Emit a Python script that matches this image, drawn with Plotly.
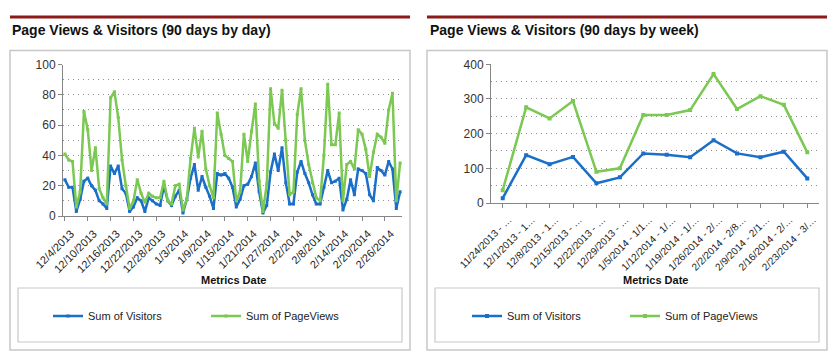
import plotly.graph_objects as go
import pandas as pd

# ---------------- data ----------------
daily_dates = [f"{d.month}/{d.day}/{d.year}" for d in pd.date_range("2013-12-04", periods=89)]

visitors_daily = [24, 19, 19, 3, 11, 23, 25, 20, 17, 10, 8, 5, 33, 28, 33, 18, 15, 3, 6, 12, 10, 3,
                  12, 10, 8, 7, 20, 10, 7, 13, 17, 2, 11, 25, 34, 17, 26, 19, 13, 5, 28, 27, 28, 25, 19,
                  6, 11, 20, 21, 26, 35, 16, 2, 7, 29, 41, 30, 45, 22, 8, 8, 29, 36, 28, 22, 14, 8, 8,
                  19, 30, 22, 23, 25, 4, 11, 24, 14, 31, 30, 28, 14, 10, 32, 30, 27, 36, 31, 5, 16]

pageviews_daily = [41, 37, 36, 6, 16, 69, 57, 30, 45, 18, 12, 8, 78, 82, 65, 37, 20, 5, 10, 24, 15, 9,
                   15, 13, 12, 12, 23, 10, 8, 20, 21, 4, 11, 38, 58, 39, 56, 31, 20, 12, 68, 54, 40, 38, 36,
                   10, 16, 54, 36, 56, 74, 23, 3, 21, 84, 61, 58, 83, 50, 14, 16, 67, 84, 50, 34, 22, 12, 10,
                   40, 87, 47, 47, 68, 10, 34, 36, 31, 57, 54, 44, 26, 42, 54, 52, 48, 70, 81, 10, 35]

week_labels = ["11/24/2013 - \u2026", "12/1/2013 - 1\u2026", "12/8/2013 - 1\u2026", "12/15/2013 - \u2026",
               "12/22/2013 - \u2026", "12/29/2013 - \u2026", "1/5/2014 - 1/1\u2026", "1/12/2014 - 1/\u2026",
               "1/19/2014 - 1/\u2026", "1/26/2014 - 2/\u2026", "2/2/2014 - 2/8\u2026", "2/9/2014 - 2/1\u2026",
               "2/16/2014 - 2/\u2026", "2/23/2014 - 3/\u2026"]
visitors_weekly = [14, 138, 112, 133, 57, 74, 143, 139, 132, 181, 143, 132, 148, 71]
pageviews_weekly = [37, 276, 244, 294, 90, 100, 254, 254, 268, 372, 271, 308, 283, 146]

daily_tick_labels = daily_dates[::6]

# ---------------- style ----------------
W, H = 838, 362
BLUE = "#1A6FC9"
GREEN = "#7BC852"
AXIS = "#868686"
GRID = "#8f8f8f"
DARKRED = "#8B1A1A"
FONT = "Liberation Sans, Arial, sans-serif"


def px(x):
    return x / W


def py(y):
    return 1 - y / H


fig = go.Figure()

fig.add_trace(go.Scatter(x=daily_dates, y=visitors_daily, name="Sum of Visitors", mode="lines+markers",
                         line=dict(color=BLUE, width=2.5), marker=dict(symbol="square", size=3, color=BLUE),
                         xaxis="x", yaxis="y", legend="legend"))
fig.add_trace(go.Scatter(x=daily_dates, y=pageviews_daily, name="Sum of PageViews", mode="lines+markers",
                         line=dict(color=GREEN, width=2.5), marker=dict(symbol="square", size=3, color=GREEN),
                         xaxis="x", yaxis="y", legend="legend"))
fig.add_trace(go.Scatter(x=week_labels, y=visitors_weekly, name="Sum of Visitors", mode="lines+markers",
                         line=dict(color=BLUE, width=2.5), marker=dict(symbol="square", size=4, color=BLUE),
                         xaxis="x2", yaxis="y2", legend="legend2"))
fig.add_trace(go.Scatter(x=week_labels, y=pageviews_weekly, name="Sum of PageViews", mode="lines+markers",
                         line=dict(color=GREEN, width=2.5), marker=dict(symbol="square", size=4, color=GREEN),
                         xaxis="x2", yaxis="y2", legend="legend2"))

ytickfont = dict(family=FONT, size=12, color="#333333")

common_x = dict(type="category", tickangle=-45, ticks="outside", ticklen=4, tickcolor=AXIS,
                showline=True, linecolor=AXIS, linewidth=1, showgrid=False,
                fixedrange=True, automargin=False, ticklabelshift=6, ticklabelstandoff=2)
common_y = dict(ticks="outside", ticklen=4, tickcolor=AXIS, showline=True, linecolor=AXIS, linewidth=1,
                showgrid=True, gridcolor=GRID, griddash="1px,4px", gridwidth=1, zeroline=False,
                tickfont=ytickfont, tickmode="linear", fixedrange=True, automargin=False)

legend_font = dict(family=FONT, size=11, color="#222222")

fig.update_layout(
    width=W, height=H, autosize=False,
    margin=dict(l=0, r=0, t=0, b=0, pad=0, autoexpand=False),
    paper_bgcolor="white", plot_bgcolor="white",
    font=dict(family=FONT, color="#222222"),
    xaxis=dict(common_x, domain=[px(63), px(402)], range=[-0.5, len(daily_dates) - 0.5],
               tickmode="array", tickvals=daily_tick_labels, ticktext=daily_tick_labels, anchor="y",
               tickfont=dict(family=FONT, size=11, color="#222222")),
    yaxis=dict(common_y, domain=[py(216), py(64.5)], range=[0, 100], dtick=20, tick0=0,
               minor=dict(dtick=10, tick0=0, showgrid=True, gridcolor=GRID, griddash="1px,4px", ticks=""),
               anchor="x"),
    xaxis2=dict(common_x, domain=[px(491), px(819)], range=[-0.5, len(week_labels) - 0.5], anchor="y2",
                tickfont=dict(family=FONT, size=10, color="#222222")),
    yaxis2=dict(common_y, domain=[py(203), py(64.3)], range=[0, 400], dtick=100, tick0=0,
                minor=dict(dtick=50, tick0=0, showgrid=True, gridcolor=GRID, griddash="1px,4px", ticks=""),
                anchor="x2"),
    legend=dict(orientation="h", x=px(48), y=py(316), xanchor="left", yanchor="middle",
                entrywidth=113, entrywidthmode="pixels", font=legend_font,
                bgcolor="rgba(0,0,0,0)", itemclick=False, itemdoubleclick=False),
    legend2=dict(orientation="h", x=px(467), y=py(316), xanchor="left", yanchor="middle",
                 entrywidth=113, entrywidthmode="pixels", font=legend_font,
                 bgcolor="rgba(0,0,0,0)", itemclick=False, itemdoubleclick=False),
    showlegend=True,
)

shapes = []
for x0, x1 in [(10, 410), (427, 827)]:
    # dark red header rule
    shapes.append(dict(type="line", xref="paper", yref="paper", x0=px(x0), x1=px(x1), y0=py(17), y1=py(17),
                       line=dict(color=DARKRED, width=3)))
    # outer chart frame
    shapes.append(dict(type="rect", xref="paper", yref="paper", x0=px(x0), x1=px(x1), y0=py(350), y1=py(50.5),
                       line=dict(color="#c8c8c8", width=1.5), layer="below"))
    # legend frame
    shapes.append(dict(type="rect", xref="paper", yref="paper", x0=px(x0 + 8), x1=px(x1 - 8), y0=py(342),
                       y1=py(288), line=dict(color="#c8c8c8", width=1.2), layer="below"))
fig.update_layout(shapes=shapes)

annotations = [
    dict(text="<b>Page Views & Visitors (90 days by day)</b>", x=px(10), y=py(30), xref="paper", yref="paper",
         xanchor="left", yanchor="middle", showarrow=False, font=dict(family=FONT, size=14, color="#111111")),
    dict(text="<b>Page Views & Visitors (90 days by week)</b>", x=px(428), y=py(30), xref="paper", yref="paper",
         xanchor="left", yanchor="middle", showarrow=False, font=dict(family=FONT, size=14, color="#111111")),
    dict(text="<b>Metrics Date</b>", x=px(233), y=py(280), xref="paper", yref="paper",
         xanchor="center", yanchor="middle", showarrow=False, font=dict(family=FONT, size=11, color="#111111")),
    dict(text="<b>Metrics Date</b>", x=px(655), y=py(280), xref="paper", yref="paper",
         xanchor="center", yanchor="middle", showarrow=False, font=dict(family=FONT, size=11, color="#111111")),
]
fig.update_layout(annotations=annotations)

fig.write_html("out.html", config={"displayModeBar": False},
               post_script="document.body.style.margin='0';document.body.style.padding='0';")
